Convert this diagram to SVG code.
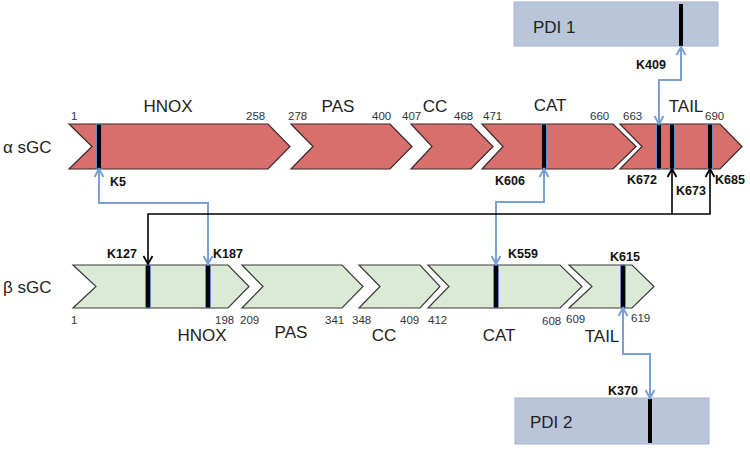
<svg xmlns="http://www.w3.org/2000/svg" width="750" height="450" viewBox="0 0 750 450">
<defs>
<style>
.a{fill:#d76f6c;stroke:#3a2a2a;stroke-width:1.2}
.b{fill:#dbead4;stroke:#3a3a3a;stroke-width:1.2}
.pdi{fill:#b9c5d9;stroke:#a5b6d3;stroke-width:1}
.bar{fill:#000;stroke:#6a8cc4;stroke-width:1}
.dom{font-family:"Liberation Sans",Arial,sans-serif;font-size:17px;fill:#222}
.num{font-family:"Liberation Sans",Arial,sans-serif;font-size:11.5px;fill:#333}
.k{font-family:"Liberation Sans",Arial,sans-serif;font-size:12.5px;font-weight:bold;fill:#111}
.side{font-family:"Liberation Sans","DejaVu Sans",sans-serif;font-size:17px;fill:#222}
.blue{fill:none;stroke:#7ba0d6;stroke-width:2;marker-start:url(#mb);marker-end:url(#mb)}
.blk{fill:none;stroke:#000;stroke-width:1.6}
</style>
<marker id="mb" markerUnits="userSpaceOnUse" markerWidth="12" markerHeight="12" refX="9" refY="5" orient="auto-start-reverse" viewBox="0 0 12 10">
<path d="M1,0.5 L9,5 L1,9.5" fill="none" stroke="#7ba0d6" stroke-width="2"/>
</marker>
<marker id="mk" markerUnits="userSpaceOnUse" markerWidth="12" markerHeight="12" refX="9" refY="5" orient="auto-start-reverse" viewBox="0 0 12 10">
<path d="M1,0.5 L9,5 L1,9.5" fill="none" stroke="#000" stroke-width="1.8"/>
</marker>
</defs>

<text class="side" x="3" y="153">α sGC</text>
<text class="side" x="3" y="293">β sGC</text>

<g id="pdi1">
<rect class="pdi" x="514" y="2" width="204" height="44"/>
<text class="dom" x="533" y="33">PDI 1</text>
<rect x="679" y="4" width="4" height="42" fill="#000"/>
<text class="k" x="636" y="69">K409</text>
</g>

<g id="alpha-hnox">
<polygon class="a" points="69,124 268,124 290,146.5 268,169 69,169 92,146.5"/>
<text class="dom" x="168" y="112" text-anchor="middle">HNOX</text>
<text class="num" x="71" y="120">1</text>
<text class="num" x="246" y="120">258</text>
<rect class="bar" x="96.5" y="124" width="5" height="45"/>
<text class="k" x="110" y="186">K5</text>
</g>
<g id="alpha-pas">
<polygon class="a" points="291,124 390,124 412,146.5 390,169 291,169 313,146.5"/>
<text class="dom" x="338" y="112" text-anchor="middle">PAS</text>
<text class="num" x="288" y="120">278</text>
<text class="num" x="372" y="120">400</text>
</g>
<g id="alpha-cc">
<polygon class="a" points="411,124 471,124 493,146.5 471,169 411,169 432,146.5"/>
<text class="dom" x="435" y="112" text-anchor="middle">CC</text>
<text class="num" x="402" y="120">407</text>
<text class="num" x="454" y="120">468</text>
</g>
<g id="alpha-cat">
<polygon class="a" points="482,124 613,124 636,146.5 613,169 482,169 503,146.5"/>
<text class="dom" x="550" y="111" text-anchor="middle">CAT</text>
<text class="num" x="483" y="120">471</text>
<text class="num" x="590" y="120">660</text>
<rect class="bar" x="541.5" y="124" width="5" height="45"/>
<text class="k" x="495" y="185">K606</text>
</g>
<g id="alpha-tail">
<polygon class="a" points="620,124 720,124 742,146.5 720,169 620,169 642,146.5"/>
<text class="dom" x="686" y="112" text-anchor="middle">TAIL</text>
<text class="num" x="623" y="120">663</text>
<text class="num" x="705" y="120">690</text>
<rect class="bar" x="656.5" y="124" width="5" height="45"/>
<rect class="bar" x="669.5" y="124" width="5" height="45"/>
<rect class="bar" x="707.5" y="124" width="5" height="45"/>
<text class="k" x="627" y="184">K672</text>
<text class="k" x="676" y="195">K673</text>
<text class="k" x="715" y="184">K685</text>
</g>

<g id="beta-hnox">
<polygon class="b" points="73,265 228,265 249,286.5 228,308 73,308 96,286.5"/>
<text class="dom" x="202" y="341" text-anchor="middle">HNOX</text>
<text class="num" x="71" y="324">1</text>
<text class="num" x="215" y="324">198</text>
<rect class="bar" x="145.5" y="265" width="5" height="43"/>
<rect class="bar" x="205.5" y="265" width="5" height="43"/>
<text class="k" x="107" y="258">K127</text>
<text class="k" x="213" y="258">K187</text>
</g>
<g id="beta-pas">
<polygon class="b" points="242,265 342,265 363,286.5 342,308 242,308 263,286.5"/>
<text class="dom" x="291" y="338" text-anchor="middle">PAS</text>
<text class="num" x="240" y="324">209</text>
<text class="num" x="325" y="324">341</text>
</g>
<g id="beta-cc">
<polygon class="b" points="359,265 420,265 440,286.5 420,308 359,308 380,286.5"/>
<text class="dom" x="384" y="341" text-anchor="middle">CC</text>
<text class="num" x="352" y="324">348</text>
<text class="num" x="400" y="324">409</text>
</g>
<g id="beta-cat">
<polygon class="b" points="428,265 560,265 582,286.5 560,308 428,308 449,286.5"/>
<text class="dom" x="499" y="341" text-anchor="middle">CAT</text>
<text class="num" x="428" y="324">412</text>
<text class="num" x="542" y="325">608</text>
<rect class="bar" x="493.5" y="265" width="5" height="43"/>
<text class="k" x="508" y="258">K559</text>
</g>
<g id="beta-tail">
<polygon class="b" points="569,265 632,265 654,286.5 632,308 569,308 592,286.5"/>
<text class="dom" x="602" y="342" text-anchor="middle">TAIL</text>
<text class="num" x="566" y="323">609</text>
<text class="num" x="631" y="322">619</text>
<rect class="bar" x="620.5" y="265" width="5" height="43"/>
<text class="k" x="610" y="261">K615</text>
</g>

<g id="pdi2">
<rect class="pdi" x="515" y="398" width="194" height="46"/>
<text class="dom" x="530" y="428">PDI 2</text>
<rect x="648" y="399" width="4" height="44" fill="#000"/>
<text class="k" x="608" y="395">K370</text>
</g>

<g id="connectors">
<path class="blue" d="M659,124 V80 H681 V47"/>
<path class="blue" d="M99,169 V203 H208 V264"/>
<path class="blue" d="M544,169 V202 H496 V264"/>
<path class="blue" d="M623,308 V354 H650 V398"/>
<path class="blk" d="M710,169 V214 H148 V264" marker-start="url(#mk)" marker-end="url(#mk)"/>
<path class="blk" d="M672,169 V214" marker-start="url(#mk)"/>
</g>
</svg>
